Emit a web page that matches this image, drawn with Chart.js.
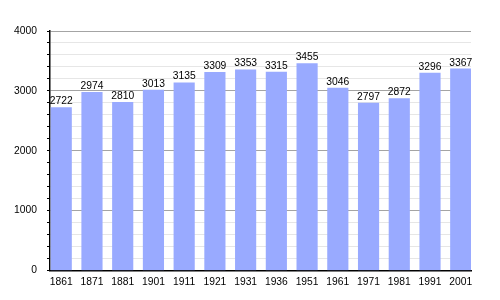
<!DOCTYPE html>
<html>
<head>
<meta charset="utf-8">
<script src="https://cdn.jsdelivr.net/npm/chart.js@4"></script>
<style>
  html, body { margin: 0; padding: 0; background: #fff; }
  #wrap { width: 500px; height: 300px; }
</style>
</head>
<body>
<div id="wrap"><canvas id="popChart" width="500" height="300"></canvas></div>
<script>
const years = ['1861', '1871', '1881', '1901', '1911', '1921', '1931', '1936', '1951', '1961', '1971', '1981', '1991', '2001'];
const population = [2722, 2974, 2810, 3013, 3135, 3309, 3353, 3315, 3455, 3046, 2797, 2872, 3296, 3367];
const yMax = 4000;

Chart.defaults.font.family = '"Liberation Sans", Arial, sans-serif';
Chart.defaults.font.size = 10.3;
Chart.defaults.color = '#000';

// 棒の上に値を表示
const valueLabels = {
    id: 'valueLabels',
    afterDatasetsDraw(chart) {
        const ctx = chart.ctx;
        const meta = chart.getDatasetMeta(0);
        ctx.save();
        ctx.font = '10.3px "Liberation Sans", Arial, sans-serif';
        ctx.fillStyle = '#000';
        ctx.textAlign = 'center';
        ctx.textBaseline = 'bottom';
        meta.data.forEach((bar, i) => {
            ctx.fillText(String(population[i]), bar.x, bar.y - 1);
        });
        ctx.restore();
    }
};

// x は位置番号（0..13）、ラベルは years から
const points = population.map((v, i) => ({ x: i, y: v }));

new Chart(document.getElementById('popChart'), {
    type: 'bar',
    data: {
        datasets: [{
            data: points,
            backgroundColor: '#99aaff',
            borderWidth: 0,
            barThickness: 20.5
        }]
    },
    options: {
        responsive: false,
        animation: false,
        layout: { padding: { top: 31, right: 29, left: 0, bottom: 0 } },
        plugins: {
            legend: { display: false },
            tooltip: { enabled: false }
        },
        scales: {
            x: {
                type: 'linear',
                offset: false,
                min: -0.366,
                max: 13.334,
                afterBuildTicks: scale => {
                    scale.ticks = years.map((_, i) => ({ value: i }));
                },
                grid: { display: false, drawTicks: false },
                border: { color: '#000', width: 1.5 },
                ticks: {
                    padding: 5,
                    maxRotation: 0,
                    autoSkip: false,
                    callback: v => years[v]
                },
                afterFit: scale => { scale.height = 29.5; }
            },
            y: {
                min: 0,
                max: yMax,
                ticks: {
                    stepSize: 200,
                    padding: 10,
                    autoSkip: false,
                    callback: v => (v % 1000 === 0 ? String(v) : '')
                },
                grid: {
                    color: c => (c.tick && c.tick.value % 1000 === 0 ? '#a4a4a4' : '#e6e6e6'),
                    tickColor: '#000',
                    tickLength: 3,
                    lineWidth: 1
                },
                border: { color: '#000', width: 1.5 },
                afterFit: scale => { scale.width = 50; }
            }
        }
    },
    plugins: [valueLabels]
});
</script>
</body>
</html>
